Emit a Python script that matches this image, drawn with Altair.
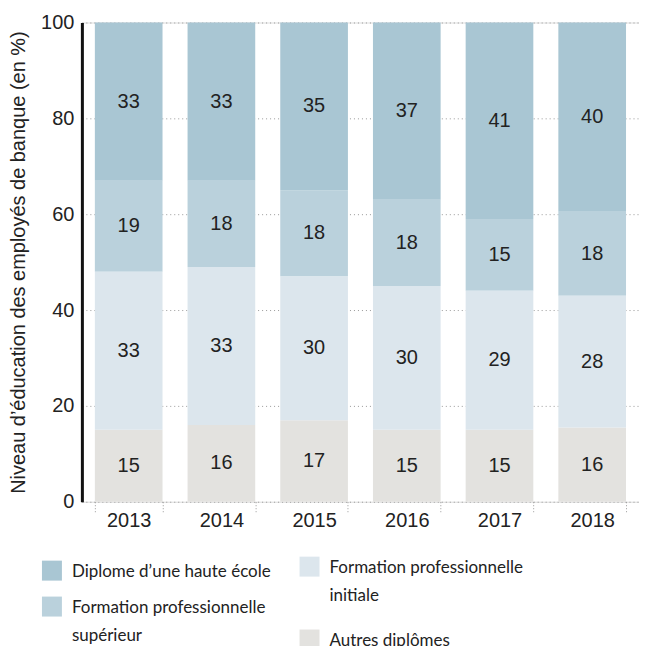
import altair as alt
import pandas as pd

years = ["2013", "2014", "2015", "2016", "2017", "2018"]
categories = [
    "Autres diplômes",
    "Formation professionnelle initiale",
    "Formation professionnelle supérieur",
    "Diplome d’une haute école",
]
colors = ["#E3E2DF", "#DCE6ED", "#BAD1DC", "#A9C6D3"]

autres = [15, 16, 17, 15, 15, 15.5]
initiale = [33, 33, 30, 30, 29, 27.5]
superieur = [19, 18, 18, 18, 15, 17.5]
haute = [33, 33, 35, 37, 41, 39.5]

autres_lbl = [15, 16, 17, 15, 15, 16]
initiale_lbl = [33, 33, 30, 30, 29, 28]
superieur_lbl = [19, 18, 18, 18, 15, 18]
haute_lbl = [33, 33, 35, 37, 41, 40]

series = [autres, initiale, superieur, haute]
labels = [autres_lbl, initiale_lbl, superieur_lbl, haute_lbl]

rows = []
for ci, cat in enumerate(categories):
    for yi, yr in enumerate(years):
        rows.append({
            "year": yr,
            "cat": cat,
            "order": ci,
            "value": series[ci][yi],
            "label": str(labels[ci][yi]),
        })
df = pd.DataFrame(rows)

col1_cats = ["Diplome d’une haute école", "Formation professionnelle supérieur"]
col1_colors = ["#A9C6D3", "#BAD1DC"]
col2_cats = ["Formation professionnelle initiale", "Autres diplômes"]
col2_colors = ["#DCE6ED", "#E3E2DF"]

label_expr = (
    "datum.label == 'Formation professionnelle initiale' ? ['Formation professionnelle', 'initiale'] : "
    "datum.label == 'Formation professionnelle supérieur' ? ['Formation professionnelle', 'supérieur'] : datum.label"
)

LABEL_DY = -7

base = alt.Chart(df).transform_stack(
    stack="value", as_=["y0", "y1"], groupby=["year"], sort=[alt.SortField("order")]
).transform_calculate(mid="(datum.y0 + datum.y1) / 2")

x = alt.X(
    "year:N",
    title=None,
    scale=alt.Scale(paddingInner=0.27, paddingOuter=0.14),
    axis=alt.Axis(
        labelAngle=0,
        labelFontSize=20,
        labelFont="Liberation Sans",
        labelColor="#222",
        labelPadding=-3 - LABEL_DY,
        domain=False,
        ticks=True,
        tickBand="extent",
        tickDash=[1, 2],
        tickColor="#999",
        tickSize=12,
        grid=False,
    ),
)

y = alt.Y(
    "y0:Q",
    title="Niveau d’éducation des employés de banque (en %)",
    scale=alt.Scale(domain=[0, 100], nice=False),
    axis=alt.Axis(
        values=[0, 20, 40, 60, 80, 100],
        labelFontSize=20,
        labelFont="Liberation Sans",
        labelColor="#222",
        labelPadding=8,
        labelOffset=-LABEL_DY,
        ticks=False,
        domain=True,
        domainColor="#111",
        domainWidth=3,
        grid=True,
        gridDash=[1, 3],
        gridColor="#999",
        gridWidth=1,
        titleFontSize=20,
        titleFont="Liberation Sans",
        titleFontWeight="normal",
        titleColor="#222",
        titlePadding=12,
    ),
)


def legend(lx, ly, rp, vals):
    return alt.Legend(
        title=None,
        orient="none",
        legendX=lx,
        legendY=ly,
        direction="vertical",
        symbolType="square",
        symbolSize=400,
        symbolStrokeWidth=0,
        labelFontSize=17,
        labelFont="Lato",
        labelColor="#222",
        labelLimit=300,
        labelOffset=10,
        labelBaseline="top",
        rowPadding=rp,
        labelExpr=label_expr,
        values=vals,
    )


bars_a = base.transform_filter(
    alt.FieldOneOfPredicate(field="cat", oneOf=col1_cats)
).mark_bar().encode(
    x=x,
    y=y,
    y2="y1:Q",
    fill=alt.Fill(
        "cat:N",
        scale=alt.Scale(domain=col1_cats, range=col1_colors),
        legend=legend(-40, 539, 16, col1_cats),
    ),
)

bars_b = base.transform_filter(
    alt.FieldOneOfPredicate(field="cat", oneOf=col2_cats)
).mark_bar().encode(
    x=x,
    y=y,
    y2="y1:Q",
    color=alt.Color(
        "cat:N",
        scale=alt.Scale(domain=col2_cats, range=col2_colors),
        legend=legend(218, 535, 26, col2_cats),
    ),
)

text = base.mark_text(fontSize=20, font="Liberation Sans", color="#222").encode(
    x=alt.X("year:N"),
    y=alt.Y("mid:Q"),
    text="label:N",
)

chart = alt.layer(bars_a, bars_b, text).properties(width=558, height=480).configure_view(
    stroke=None
).configure(
    padding={"left": 0, "top": 4, "right": 0, "bottom": 5},
    style={"guide-label": {"lineHeight": 28, "dy": LABEL_DY}},
)

chart.save("out.html", embed_options={"renderer": "svg", "actions": False})
